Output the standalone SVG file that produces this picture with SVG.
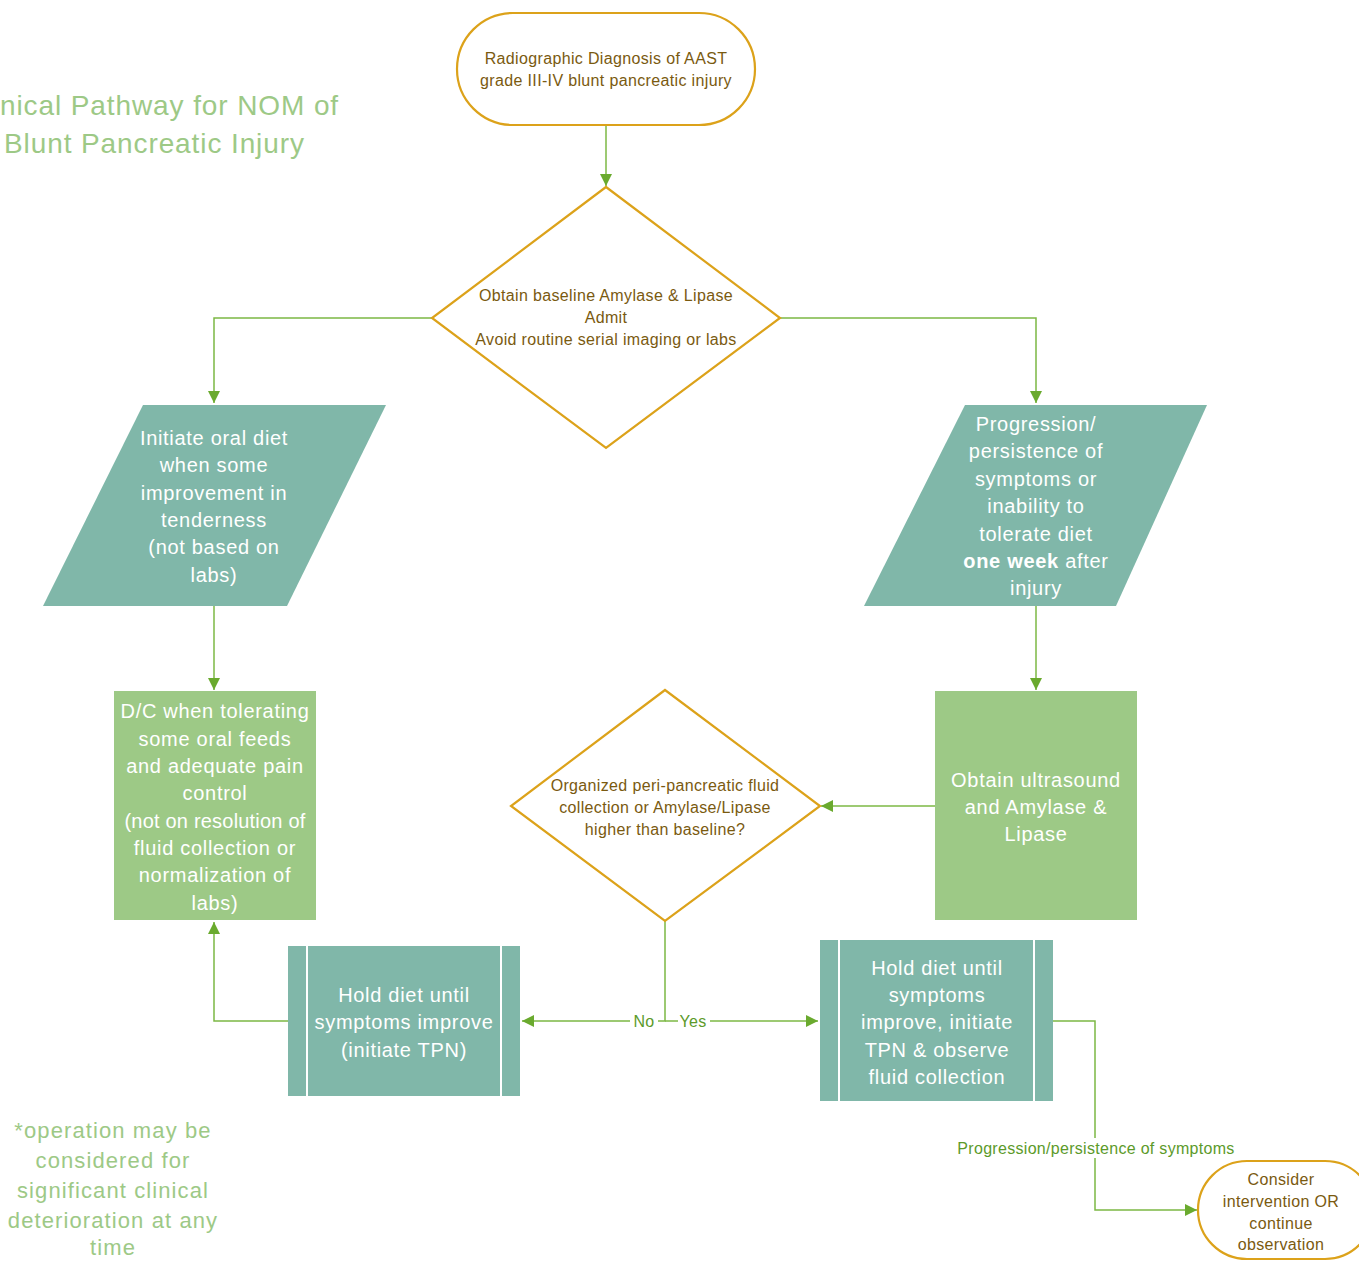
<svg xmlns="http://www.w3.org/2000/svg" width="1359" height="1261" viewBox="0 0 1359 1261">
<defs>
<marker id="arr" viewBox="0 0 12 12" refX="12" refY="6" markerWidth="12" markerHeight="12" orient="auto" markerUnits="userSpaceOnUse">
<path d="M0,0 L12,6 L0,12 z" fill="#6aaa2e"/>
</marker>
<style>
text{font-family:"Liberation Sans",Arial,sans-serif}
.term{fill:#fff;stroke:#dca21a;stroke-width:2.2}
.dec{fill:#fff;stroke:#dca21a;stroke-width:2.2}
.teal{fill:#80b7a9}
.grn{fill:#9dc986}
.sep{stroke:#fff;stroke-width:2}
.ot{fill:#7a5a10;font-size:16px;letter-spacing:0.35px;text-anchor:middle}
.wt{fill:#fff;font-size:20px;letter-spacing:0.7px;text-anchor:middle}
.con{fill:none;stroke:#7cb844;stroke-width:1.5}
.lbl{fill:#5c9a2a;font-size:16px;letter-spacing:0.3px;text-anchor:middle}
.note{fill:#9dc986;font-size:22px;letter-spacing:1.1px;text-anchor:middle}
.ttl{fill:#9dc986;font-size:28px;letter-spacing:0.9px}
</style>
</defs>
<rect width="1359" height="1261" fill="#fff"/>

<g id="title">
<text class="ttl" x="0" y="115">nical Pathway for NOM of</text>
<text class="ttl" x="4" y="153">Blunt Pancreatic Injury</text>
</g>

<g id="connectors">
<path class="con" d="M606,125 V186" marker-end="url(#arr)"/>
<path class="con" d="M432,318 H214 V403" marker-end="url(#arr)"/>
<path class="con" d="M780,318 H1036 V403" marker-end="url(#arr)"/>
<path class="con" d="M214,606 V690" marker-end="url(#arr)"/>
<path class="con" d="M1036,606 V690" marker-end="url(#arr)"/>
<path class="con" d="M935,806 H821" marker-end="url(#arr)"/>
<path class="con" d="M665,921 V1021 H522" marker-end="url(#arr)"/>
<path class="con" d="M665,1021 H818" marker-end="url(#arr)"/>
<path class="con" d="M288,1021 H214 V922" marker-end="url(#arr)"/>
<path class="con" d="M1053,1021 H1095 V1210 H1197" marker-end="url(#arr)"/>
<rect x="630" y="1012" width="28" height="18" fill="#fff"/>
<rect x="678" y="1012" width="32" height="18" fill="#fff"/>
<text class="lbl" x="644" y="1027">No</text>
<text class="lbl" x="693" y="1027">Yes</text>
<rect x="948" y="1138" width="296" height="20" fill="#fff"/>
<text class="lbl" x="1096" y="1154">Progression/persistence of symptoms</text>
</g>

<g id="start">
<rect class="term" x="457" y="13" width="298" height="112" rx="56" ry="56"/>
<text class="ot" x="606" y="64">Radiographic Diagnosis of AAST</text>
<text class="ot" x="606" y="86">grade III-IV blunt pancreatic injury</text>
</g>

<g id="baseline">
<polygon class="dec" points="606,187 780,318 606,448 432,318"/>
<text class="ot" x="606" y="301">Obtain baseline Amylase &amp; Lipase</text>
<text class="ot" x="606" y="323">Admit</text>
<text class="ot" x="606" y="345">Avoid routine serial imaging or labs</text>
</g>

<g id="oral-diet">
<polygon class="teal" points="143,405 386,405 287,606 43,606"/>
<text class="wt" x="214" y="445">Initiate oral diet</text>
<text class="wt" x="214" y="472">when some</text>
<text class="wt" x="214" y="500">improvement in</text>
<text class="wt" x="214" y="527">tenderness</text>
<text class="wt" x="214" y="554">(not based on</text>
<text class="wt" x="214" y="582">labs)</text>
</g>

<g id="progression">
<polygon class="teal" points="965,405 1207,405 1116,606 864,606"/>
<text class="wt" x="1036" y="431">Progression/</text>
<text class="wt" x="1036" y="458">persistence of</text>
<text class="wt" x="1036" y="486">symptoms or</text>
<text class="wt" x="1036" y="513">inability to</text>
<text class="wt" x="1036" y="541">tolerate diet</text>
<text class="wt" x="1036" y="568"><tspan font-weight="bold">one week</tspan> after</text>
<text class="wt" x="1036" y="595">injury</text>
</g>

<g id="discharge">
<rect class="grn" x="114" y="691" width="202" height="229"/>
<text class="wt" x="215" y="718">D/C when tolerating</text>
<text class="wt" x="215" y="746">some oral feeds</text>
<text class="wt" x="215" y="773">and adequate pain</text>
<text class="wt" x="215" y="800">control</text>
<text class="wt" x="215" y="828" style="letter-spacing:0.2px">(not on resolution of</text>
<text class="wt" x="215" y="855">fluid collection or</text>
<text class="wt" x="215" y="882">normalization of</text>
<text class="wt" x="215" y="910">labs)</text>
</g>

<g id="ultrasound">
<rect class="grn" x="935" y="691" width="202" height="229"/>
<text class="wt" x="1036" y="787">Obtain ultrasound</text>
<text class="wt" x="1036" y="814">and Amylase &amp;</text>
<text class="wt" x="1036" y="841">Lipase</text>
</g>

<g id="fluid-decision">
<polygon class="dec" points="665,690 820,806 665,921 511,806"/>
<text class="ot" x="665" y="791">Organized peri-pancreatic fluid</text>
<text class="ot" x="665" y="813">collection or Amylase/Lipase</text>
<text class="ot" x="665" y="835">higher than baseline?</text>
</g>

<g id="hold-no">
<rect class="teal" x="288" y="946" width="232" height="150"/>
<line class="sep" x1="307" y1="946" x2="307" y2="1096"/>
<line class="sep" x1="501" y1="946" x2="501" y2="1096"/>
<text class="wt" x="404" y="1002">Hold diet until</text>
<text class="wt" x="404" y="1029">symptoms improve</text>
<text class="wt" x="404" y="1057">(initiate TPN)</text>
</g>

<g id="hold-yes">
<rect class="teal" x="820" y="940" width="233" height="161"/>
<line class="sep" x1="839" y1="940" x2="839" y2="1101"/>
<line class="sep" x1="1034" y1="940" x2="1034" y2="1101"/>
<text class="wt" x="937" y="975">Hold diet until</text>
<text class="wt" x="937" y="1002">symptoms</text>
<text class="wt" x="937" y="1029">improve, initiate</text>
<text class="wt" x="937" y="1057">TPN &amp; observe</text>
<text class="wt" x="937" y="1084">fluid collection</text>
</g>

<g id="intervention">
<rect class="term" x="1198" y="1161" width="176" height="98" rx="49" ry="49"/>
<text class="ot" x="1281" y="1185">Consider</text>
<text class="ot" x="1281" y="1207">intervention OR</text>
<text class="ot" x="1281" y="1229">continue</text>
<text class="ot" x="1281" y="1250">observation</text>
</g>

<g id="footnote">
<text class="note" x="113" y="1138">*operation may be</text>
<text class="note" x="113" y="1168">considered for</text>
<text class="note" x="113" y="1198">significant clinical</text>
<text class="note" x="113" y="1228">deterioration at any</text>
<text class="note" x="113" y="1255">time</text>
</g>
</svg>
